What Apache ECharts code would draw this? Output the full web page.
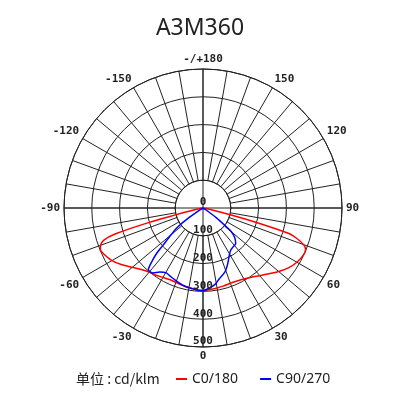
<!DOCTYPE html>
<html><head><meta charset="utf-8">
<script src="https://cdn.jsdelivr.net/npm/echarts@6/dist/echarts.min.js"></script>
<style>html,body{margin:0;padding:0;background:#fff}#c{width:400px;height:400px}</style>
</head><body><div id="c"></div>
<script>
const titleText = 'A3M360';
const unitText = '单位 : cd/klm';
const seriesNames = ['C0/180', 'C90/270'];
const seriesColors = ['#ff0000', '#0000ff'];
const radiusMax = 500;
const radiusStep = 100;
const angleStep = 10;
const angleLabelStep = 30;

const c0Angles = [-90,-80,-77,-75,-73.5,-72,-70,-68,-65,-60,-55,-50,-45,-40,-35,-30,-25,-20,-15,-10,-5,0,5,10,15,20,25,30,35,40,45,50,55,60,65,68,70,72,73.5,75,77,80,90];
const c0Values = [0,10,60,200,330,375,392,398,393,378,356,332,313,301,295,288,284,285,288,290,294,297,294,292,290,288,290,295,304,318,335,355,375,390,399,398,385,355,320,190,60,10,0];

const c90Angles = [-90,-62,-58,-55,-53,-50,-47,-45.5,-43.5,-41.5,-37.5,-34,-29.5,-25,-19,-13,-8,-3.5,0,3.5,9,13,19,24,29,33,37.5,42.5,47,50,51.5,54,58,62,90];
const c90Values = [0,0,10,70,115,150,197,235,269,297,295,278,268,273,281,289,293,297,297,291,278,261,243,219,195,182,177,174,156,134,100,60,10,0,0];

const zip = (angles, values) => angles.map((a, i) => [values[i], a]);
const CENTER = [203, 208];
const R = 139;
const ink = '#222';

const chart = echarts.init(document.getElementById('c'), null, {renderer: 'canvas'});
chart.setOption({
  animation: false,
  backgroundColor: '#fff',
  title: [
    {text: titleText, left: 'center', top: 12,
     textStyle: {fontFamily: 'Noto Sans', fontSize: 23, fontWeight: 'normal', color: ink}},
    {text: unitText, left: 76, top: 372, padding: 0,
     textStyle: {fontFamily: 'Noto Sans CJK SC', fontSize: 14, fontWeight: 'normal', color: ink}}
  ],
  legend: {
    left: 176, top: 372, padding: 0, itemGap: 22, itemWidth: 11, itemHeight: 2, icon: 'rect',
    data: seriesNames,
    textStyle: {fontFamily: 'Noto Sans', fontSize: 14, color: ink}
  },
  polar: [
    {center: CENTER, radius: [R * radiusStep / radiusMax, R]},
    {center: CENTER, radius: [0, R]},
    {center: CENTER, radius: [0, R]}
  ],
  angleAxis: [
    {polarIndex: 0, type: 'value', min: -180, max: 180, interval: angleStep, startAngle: 90, clockwise: false,
     axisLine: {show: true, lineStyle: {color: ink, width: 1}},
     axisTick: {show: false},
     axisLabel: {show: true, margin: 4, fontFamily: 'DejaVu Sans Mono', fontWeight: 'bold', fontSize: 11, color: ink,
       formatter: v => {
         if (v === -180) return '-/+180';
         if (v === 180) return '';
         return (v % angleLabelStep === 0) ? String(v) : '';
       }},
     splitLine: {show: true, lineStyle: {color: ink, width: 1}}},
    {polarIndex: 1, type: 'value', min: -180, max: 180, interval: 90, startAngle: 90, clockwise: false,
     axisLine: {show: false}, axisTick: {show: false}, axisLabel: {show: false},
     splitLine: {show: true, lineStyle: {color: ink, width: 1}}},
    {polarIndex: 2, type: 'value', min: 0, max: 360, startAngle: 270, clockwise: false,
     axisLine: {show: false}, axisTick: {show: false}, axisLabel: {show: false}, splitLine: {show: false}}
  ],
  radiusAxis: [
    {polarIndex: 0, type: 'value', min: 0, max: 1,
     axisLine: {show: false}, axisTick: {show: false}, axisLabel: {show: false}, splitLine: {show: false}},
    {polarIndex: 1, type: 'value', min: 0, max: radiusMax, interval: radiusStep,
     axisLine: {show: false}, axisTick: {show: false}, axisLabel: {show: false},
     splitLine: {show: true, lineStyle: {color: ink, width: 1}}},
    {polarIndex: 2, type: 'value', min: 0, max: radiusMax, interval: radiusStep, z: 10,
     axisLine: {show: false}, axisTick: {show: false}, splitLine: {show: false},
     axisLabel: {show: true, margin: 0, rotate: 0, align: 'center', verticalAlign: 'bottom',
       fontFamily: 'DejaVu Sans Mono', fontWeight: 'bold', fontSize: 11, color: ink, showMinLabel: true, showMaxLabel: true}}
  ],
  series: [
    {name: seriesNames[0], type: 'line', coordinateSystem: 'polar', polarIndex: 1,
     data: zip(c0Angles, c0Values), showSymbol: false, smooth: 0.25, z: 5,
     itemStyle: {color: seriesColors[0]}, lineStyle: {color: seriesColors[0], width: 1.5}},
    {name: seriesNames[1], type: 'line', coordinateSystem: 'polar', polarIndex: 1,
     data: zip(c90Angles, c90Values), showSymbol: false, smooth: 0.25, z: 5,
     itemStyle: {color: seriesColors[1]}, lineStyle: {color: seriesColors[1], width: 1.5}}
  ]
});
</script></body></html>
